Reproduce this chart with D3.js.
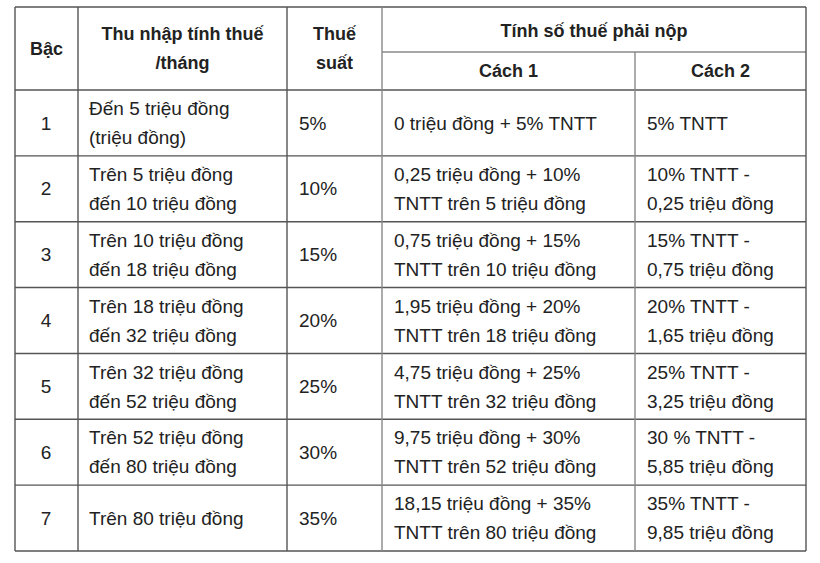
<!DOCTYPE html>
<html><head><meta charset="utf-8">
<script src="https://cdn.jsdelivr.net/npm/d3@7"></script>
<style>body{margin:0;background:#fff}</style></head>
<body><svg id="c" width="820" height="563"></svg>
<script>
const bac = ["1","2","3","4","5","6","7"];
const thuNhap = [["Đến 5 triệu đồng","(triệu đồng)"],["Trên 5 triệu đồng","đến 10 triệu đồng"],["Trên 10 triệu đồng","đến 18 triệu đồng"],["Trên 18 triệu đồng","đến 32 triệu đồng"],["Trên 32 triệu đồng","đến 52 triệu đồng"],["Trên 52 triệu đồng","đến 80 triệu đồng"],["Trên 80 triệu đồng"]];
const thueSuat = ["5%","10%","15%","20%","25%","30%","35%"];
const cach1 = [["0 triệu đồng + 5% TNTT"],["0,25 triệu đồng + 10%","TNTT trên 5 triệu đồng"],["0,75 triệu đồng + 15%","TNTT trên 10 triệu đồng"],["1,95 triệu đồng + 20%","TNTT trên 18 triệu đồng"],["4,75 triệu đồng + 25%","TNTT trên 32 triệu đồng"],["9,75 triệu đồng + 30%","TNTT trên 52 triệu đồng"],["18,15 triệu đồng + 35%","TNTT trên 80 triệu đồng"]];
const cach2 = [["5% TNTT"],["10% TNTT -","0,25 triệu đồng"],["15% TNTT -","0,75 triệu đồng"],["20% TNTT -","1,65 triệu đồng"],["25% TNTT -","3,25 triệu đồng"],["30 % TNTT -","5,85 triệu đồng"],["35% TNTT -","9,85 triệu đồng"]];

const svg = d3.select("#c");
const colX = [15, 78, 287, 382, 635, 806];
const yTop = 7, h1 = 52, h2 = 90, yBottom = 551;
const y = d3.scaleBand().domain(bac).range([h2, yBottom]);
const font = "Liberation Sans, Arial, sans-serif";
const lh = 29;

function lines(g, arr, x, cy, anchor, bold, size){
  const n = arr.length;
  arr.forEach((t,i)=>{
    g.append("text").attr("x",x).attr("y",cy + (i-(n-1)/2)*lh)
     .attr("dy","0.35em").attr("text-anchor",anchor)
     .attr("font-family",font).attr("font-size",size)
     .attr("font-weight",bold?"bold":"normal").attr("fill","#222").text(t);
  });
}
const g = svg.append("g");
lines(g,["Bậc"],(colX[0]+colX[1])/2,(yTop+h2)/2,"middle",true,18);
lines(g,["Thu nhập tính thuế","/tháng"],(colX[1]+colX[2])/2,(yTop+h2)/2,"middle",true,18);
lines(g,["Thuế","suất"],(colX[2]+colX[3])/2,(yTop+h2)/2,"middle",true,18);
lines(g,["Tính số thuế phải nộp"],(colX[3]+colX[5])/2,(yTop+h1)/2+1,"middle",true,18);
lines(g,["Cách 1"],(colX[3]+colX[4])/2,(h1+h2)/2,"middle",true,18);
lines(g,["Cách 2"],(colX[4]+colX[5])/2,(h1+h2)/2,"middle",true,18);
bac.forEach((b,i)=>{
  const cy = y(b)+y.bandwidth()/2;
  lines(g,[b],colX[0]+31,cy,"middle",false,19);
  lines(g,thuNhap[i],colX[1]+11,cy,"start",false,19);
  lines(g,[thueSuat[i]],colX[2]+12,cy,"start",false,19);
  lines(g,cach1[i],colX[3]+12,cy,"start",false,19);
  lines(g,cach2[i],colX[4]+12,cy,"start",false,19);
});
const stroke = "#555";
const ln=(x1,y1,x2,y2,c)=>svg.append("line").attr("x1",x1).attr("y1",y1).attr("x2",x2).attr("y2",y2).attr("stroke",c||stroke).attr("stroke-width",1.4);
ln(colX[0],yTop,colX[5],yTop);
ln(colX[3],h1,colX[5],h1,"#888");
ln(colX[0],h2,colX[5],h2);
bac.forEach(b=>ln(colX[0],y(b)+y.bandwidth(),colX[5],y(b)+y.bandwidth()));
ln(colX[0],yTop,colX[0],yBottom);
ln(colX[1],yTop,colX[1],yBottom);
ln(colX[2],yTop,colX[2],yBottom);
ln(colX[3],yTop,colX[3],yBottom,"#888");
ln(colX[4],h1,colX[4],yBottom,"#888");
ln(colX[5],yTop,colX[5],yBottom);
</script></body></html>
